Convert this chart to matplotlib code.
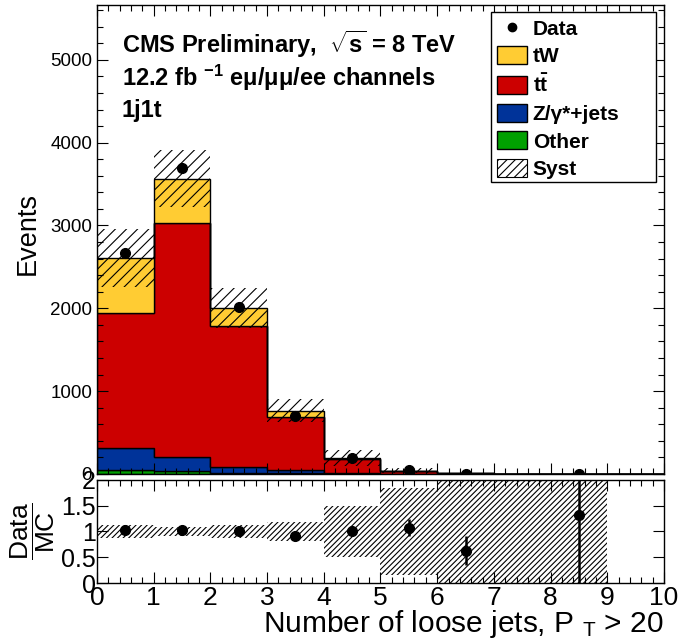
import numpy as np
import matplotlib
matplotlib.use("Agg")
import matplotlib.pyplot as plt
from matplotlib.patches import Patch, Rectangle
from matplotlib.lines import Line2D
from matplotlib.ticker import MultipleLocator

plt.rcParams['font.family'] = ['Liberation Sans', 'DejaVu Sans']
plt.rcParams['mathtext.fontset'] = 'custom'
plt.rcParams['mathtext.rm'] = 'Liberation Sans'
plt.rcParams['mathtext.it'] = 'Liberation Sans:italic'
plt.rcParams['mathtext.bf'] = 'Liberation Sans:bold'
plt.rcParams['hatch.linewidth'] = 0.8

# number of loose jets, one bin per integer 0..9
edges = np.arange(0, 11)
centers = edges[:-1] + 0.5

other = np.array([50, 30, 15, 8, 2, 0.5, 0.2, 0.0, 0.0, 0.0])
zjets = np.array([263, 178, 65, 40, 5, 1.5, 0.3, 0.0, 0.0, 0.0])
ttbar = np.array([1627, 2816, 1703, 642, 178, 37, 6.5, 1.2, 0.6, 0.0])
tw = np.array([666, 542, 225, 73, 5, 1.0, 1.0, 0.3, 0.16, 0.0])
data = np.array([2666, 3690, 2016, 695, 193, 43, 5, 0, 1, 0])
syst = np.array([350, 340, 240, 140, 95, 34, 8, 2, 1, 0])

stack = [(other, '#00a000'), (zjets, '#003399'), (ttbar, '#cc0000'), (tw, '#ffcc33')]

fig = plt.figure(figsize=(6.81, 6.44), dpi=100)
ax = fig.add_axes([0.1424, 0.264, 0.8326, 0.728])
rax = fig.add_axes([0.1424, 0.0947, 0.8326, 0.160])

# stacked MC
bottom = np.zeros(len(centers))
for vals, col in stack:
    top = bottom + vals
    ax.stairs(top, edges, baseline=bottom, fill=True, facecolor=col,
              edgecolor='black', linewidth=1.0)
    bottom = top
total = bottom

# systematic band
has_mc = total > 0
ax.bar(centers[has_mc], 2 * syst[has_mc], width=1.0, bottom=(total - syst)[has_mc],
       fill=False, hatch='///', edgecolor='black', linewidth=0)

# data
shown = data > 0
ax.errorbar(centers[shown], data[shown], yerr=np.sqrt(data[shown]), fmt='o',
            color='black', markersize=7, elinewidth=1.5, capsize=0)

ax.set_xlim(0, 10)
ax.set_ylim(0, 5660)
ax.xaxis.set_major_locator(MultipleLocator(1))
ax.xaxis.set_minor_locator(MultipleLocator(0.2))
ax.yaxis.set_major_locator(MultipleLocator(1000))
ax.yaxis.set_minor_locator(MultipleLocator(200))
ax.tick_params(axis='x', labelbottom=False)
ax.tick_params(which='both', direction='in', top=True, right=True, labelsize=13.5)
ax.tick_params(which='major', length=8, width=0.8)
ax.tick_params(which='minor', length=4, width=0.8)
ax.set_ylabel('Events', fontsize=19.5)
ax.yaxis.set_label_coords(-0.1, 0.601, transform=ax.transAxes)
ax.yaxis.label.set_horizontalalignment('right')

ax.text(0.044, 0.917, r'CMS Preliminary,  $\sqrt{\mathbf{s}}$ = 8 TeV',
        transform=ax.transAxes, fontsize=17, fontweight='bold', va='center')
ax.text(0.044, 0.845, '12.2 fb $^{\\mathbf{-1}}$ eμ/μμ/ee channels',
        transform=ax.transAxes, fontsize=17, fontweight='bold', va='center')
ax.text(0.044, 0.776, '1j1t', transform=ax.transAxes, fontsize=17,
        fontweight='bold', va='center')

# legend with a fixed-size frame
ax.add_patch(Rectangle((0.695, 0.623), 0.291, 0.362, transform=ax.transAxes,
                       facecolor='white', edgecolor='black', linewidth=1.0, zorder=4))
handles = [
    Line2D([], [], marker='o', color='black', linestyle='none', markersize=6),
    Patch(facecolor='#ffcc33', edgecolor='black'),
    Patch(facecolor='#cc0000', edgecolor='black'),
    Patch(facecolor='#003399', edgecolor='black'),
    Patch(facecolor='#00a000', edgecolor='black'),
    Patch(facecolor='white', edgecolor='black', hatch='////', linewidth=0.8),
]
labels = ['Data', 'tW', r'$\mathbf{t\bar{t}}$', 'Z/γ*+jets', 'Other', 'Syst']
leg = ax.legend(handles, labels, loc='upper left', bbox_to_anchor=(0.695, 0.985),
                borderaxespad=0, frameon=False,
                prop={'weight': 'bold', 'size': 15}, handlelength=1.45,
                handleheight=0.95, handletextpad=0.25, labelspacing=0.36,
                borderpad=0.3)
leg.set_zorder(5)

# ratio panel
ratio_band = np.where(has_mc, syst / np.where(has_mc, total, 1), 0)
rax.bar(centers[has_mc], 2 * ratio_band[has_mc], width=1.0,
        bottom=(1 - ratio_band)[has_mc], fill=False, hatch='//////',
        edgecolor='black', linewidth=0)
ratio = data[shown] / total[shown]
ratio_err = np.sqrt(data[shown]) / total[shown]
rax.errorbar(centers[shown], ratio, yerr=ratio_err, fmt='o', color='black',
             markersize=7, elinewidth=1.8, capsize=0)

rax.set_xlim(0, 10)
rax.set_ylim(0, 2)
rax.xaxis.set_major_locator(MultipleLocator(1))
rax.xaxis.set_minor_locator(MultipleLocator(0.2))
rax.tick_params(which='both', direction='in', top=True, right=True, labelsize=19)
rax.tick_params(which='major', length=8, width=0.8, pad=2)
rax.tick_params(which='minor', length=4, width=0.8)
rax.tick_params(axis='y', pad=1, labelsize=18)
rax.set_yticks([0, 0.5, 1, 1.5, 2], ['0', '0.5', '1', '1.5', '2'])
rax.set_ylabel(r'$\dfrac{\rm Data}{\rm MC}$', fontsize=19)
rax.yaxis.set_label_coords(-0.07, 0.5)
rax.set_xlabel(r'Number of loose jets, P $_{\rm T}$ > 20', fontsize=21.5)
rax.xaxis.set_label_coords(1.0, -0.245)
rax.xaxis.label.set_horizontalalignment('right')

for a in (ax, rax):
    for s in a.spines.values():
        s.set_linewidth(1.0)

fig.savefig('out.png', dpi=100)
